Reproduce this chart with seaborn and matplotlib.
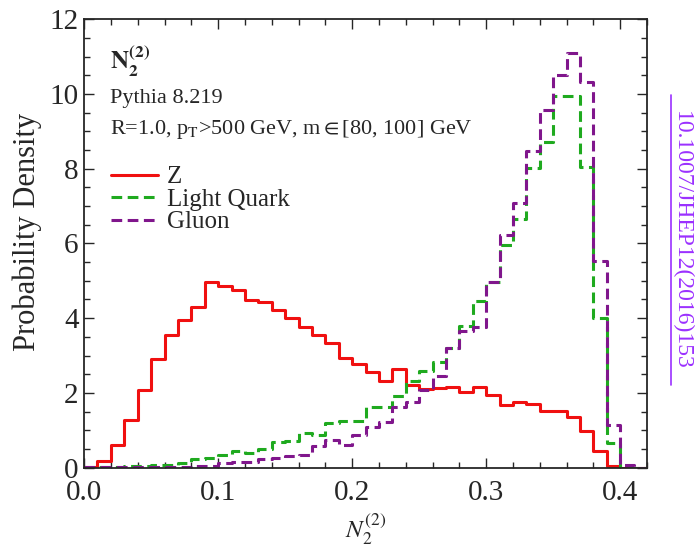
import numpy as np
import pandas as pd
import matplotlib
matplotlib.use("Agg")
import matplotlib.pyplot as plt
from matplotlib.ticker import MultipleLocator, FormatStrFormatter
from matplotlib.lines import Line2D
import seaborn as sns

# histogram bins: 42 bins of width 0.01 between 0 and 0.42
bin_edges = [round(0.01 * i, 2) for i in range(43)]
bin_centers = [round(0.01 * i + 0.005, 3) for i in range(42)]

# probability density per bin
z_density = [0.02, 0.17, 0.60, 1.27, 2.08, 2.91, 3.56, 3.94, 4.30, 4.98,
             4.87, 4.76, 4.49, 4.43, 4.21, 4.00, 3.76, 3.54, 3.34, 2.93,
             2.77, 2.55, 2.33, 2.65, 2.22, 2.10, 2.12, 2.17, 2.03, 2.17,
             1.94, 1.68, 1.77, 1.71, 1.51, 1.51, 1.36, 0.99, 0.44, 0.04,
             0.00, 0.00]
quark_density = [0.00, 0.01, 0.03, 0.04, 0.05, 0.07, 0.08, 0.13, 0.22, 0.27,
                 0.33, 0.45, 0.39, 0.50, 0.70, 0.72, 0.94, 0.87, 1.20, 1.25,
                 1.24, 1.62, 1.63, 1.91, 2.31, 2.58, 2.82, 3.20, 3.78, 4.45,
                 4.96, 5.96, 6.66, 8.03, 8.70, 9.95, 9.95, 8.04, 4.00, 0.66,
                 0.00, 0.00]
gluon_density = [0.02, 0.02, 0.02, 0.03, 0.03, 0.03, 0.03, 0.03, 0.04, 0.04,
                 0.13, 0.14, 0.16, 0.24, 0.27, 0.30, 0.35, 0.58, 0.73, 0.61,
                 0.88, 1.08, 1.21, 1.62, 1.77, 2.09, 2.44, 3.20, 3.65, 3.76,
                 4.96, 6.23, 7.09, 8.46, 9.57, 10.51, 11.10, 10.31, 5.52, 1.15,
                 0.06, 0.00]

samples = ["Z", "Light Quark", "Gluon"]
colors = ["#f01010", "#1faa1f", "#80168c"]
styles = ["-", "--", "--"]

df = pd.DataFrame({
    "n2": bin_centers * 3,
    "density": z_density + quark_density + gluon_density,
    "sample": np.repeat(samples, len(bin_centers)),
})

sns.set_style("ticks")
plt.rcParams["font.family"] = ["Liberation Serif", "DejaVu Serif"]
plt.rcParams["mathtext.fontset"] = "stix"

fig = plt.figure(figsize=(6.95, 5.47), dpi=100)
ax = fig.add_axes([0.121, 0.145, 0.810, 0.820])

for name, color, ls in zip(samples, colors, styles):
    sub = df[df["sample"] == name]
    kw = dict(linestyle=ls)
    if ls == "--":
        kw["dashes"] = (3.5, 1.8)
    sns.histplot(data=sub, x="n2", weights="density", bins=bin_edges,
                 element="step", fill=False, stat="count", color=color,
                 linewidth=2.2, ax=ax, **kw)

ax.set_xlim(0, 0.42)
ax.set_ylim(0, 12)
ax.xaxis.set_major_locator(MultipleLocator(0.1))
ax.xaxis.set_minor_locator(MultipleLocator(0.02))
ax.yaxis.set_major_locator(MultipleLocator(2))
ax.yaxis.set_minor_locator(MultipleLocator(0.5))
ax.xaxis.set_major_formatter(FormatStrFormatter("%.1f"))
ax.tick_params(which="both", direction="in", top=True, right=True,
               labelsize=21, width=1.0)
ax.tick_params(axis="x", pad=9)
ax.tick_params(axis="y", pad=4)
ax.tick_params(which="major", length=7)
ax.tick_params(which="minor", length=4)
for s in ax.spines.values():
    s.set_linewidth(1.3)

ax.set_xlabel(r"$N_2^{(2)}$", fontsize=18, labelpad=4)
ax.set_ylabel("Probability Density", fontsize=22)
ax.yaxis.set_label_coords(-0.075, 0.525)

ax.text(0.046, 0.945, r"$\mathbf{N_2^{(2)}}$", transform=ax.transAxes,
        fontsize=18, va="top", ha="left")
ax.text(0.046, 0.845, "Pythia 8.219", transform=ax.transAxes,
        fontsize=16, va="top", ha="left")
ax.text(0.046, 0.78,
        r"R=1.0, p$_\mathrm{T}$>500 GeV, m$\in$[80, 100] GeV",
        transform=ax.transAxes, fontsize=16, va="top", ha="left")

handles = [Line2D([], [], color=c, linestyle=ls, linewidth=2.2,
                  dashes=(3.5, 1.8) if ls == "--" else (None, None))
           for c, ls in zip(colors, styles)]
ax.legend(handles, samples, loc="upper left", bbox_to_anchor=(0.03, 0.695),
          frameon=False, fontsize=18, handlelength=1.9, handletextpad=0.35,
          labelspacing=0.0, borderaxespad=0)

# DOI reference on the right edge
fig.text(0.981, 0.561, "10.1007/JHEP12(2016)153", rotation=-90,
         color="#9b30ff", fontsize=17, ha="center", va="center")
fig.add_artist(Line2D([0.966, 0.966], [0.296, 0.826], color="#9b30ff",
                      linewidth=1.2, transform=fig.transFigure))

fig.savefig("out.png", dpi=100)
